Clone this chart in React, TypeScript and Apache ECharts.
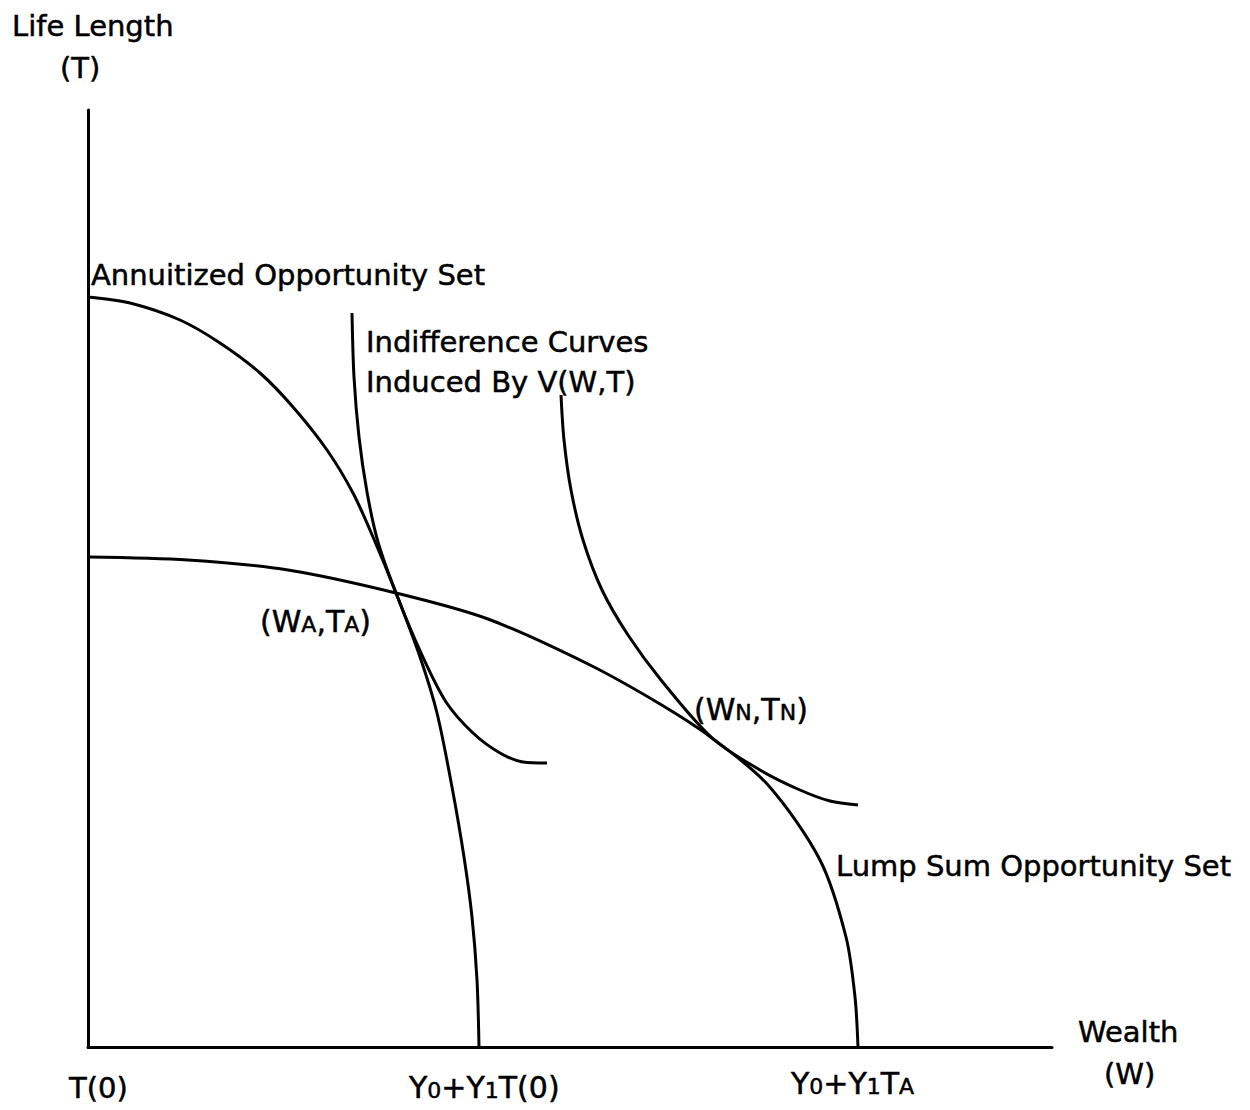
import React, { useEffect, useRef } from "react";
import * as echarts from "echarts";

// Data units: wealth (x) and life length (y), origin at T(0)
const annuitized: [number, number][] = [
  [0, 750], [42, 744], [92, 727], [132, 704], [172, 674], [205, 640], [239, 597],
  [265, 554], [285, 510], [308, 454], [332, 390], [349, 334], [364, 260],
  [376, 190], [384, 130], [389, 67], [391, 0],
];
const lumpSum: [number, number][] = [
  [0, 490], [100, 487], [200, 477], [308, 454], [400, 428], [500, 383],
  [572, 343], [624, 309], [680, 262], [732, 187], [758, 110], [767, 50], [770, 0],
];
const indiff1: [number, number][] = [
  [264, 734], [266, 670], [271, 610], [279, 555], [290, 505], [308, 454],
  [333, 394], [358, 345], [385, 314], [412, 294], [435, 285], [459, 284],
];
const indiff2: [number, number][] = [
  [473, 652], [476, 607], [483, 557], [495, 507], [514, 457], [540, 412],
  [573, 367], [624, 309], [672, 277], [712, 257], [742, 246], [770, 242],
];

const FONT = "DejaVu Sans";

export default function App() {
  const ref = useRef<HTMLDivElement>(null);
  useEffect(() => {
    if (!ref.current) return;
    const chart = echarts.init(ref.current, undefined, { renderer: "svg" });
    const base = { fontFamily: FONT, fontSize: 29, fill: "#000", stroke: "#000", lineWidth: 0.5 };
    const rich = {
      a: { fontFamily: FONT, fontSize: 30, fill: "#000", stroke: "#000", lineWidth: 0.5, verticalAlign: "bottom", lineHeight: 36 },
      s: { fontFamily: FONT, fontSize: 22, fill: "#000", stroke: "#000", lineWidth: 0.5, verticalAlign: "bottom", lineHeight: 36, padding: [0, 0, 1, 0] },
    };
    const txt = (text: string, x: number, y: number) => ({
      type: "text",
      x,
      y,
      style: { ...base, text, textAlign: "left", textVerticalAlign: "middle" },
    });
    const richTxt = (text: string, x: number, y: number) => ({
      type: "text",
      x,
      y,
      style: { text, rich, textAlign: "left", textVerticalAlign: "middle", fontFamily: FONT, fontSize: 30, fill: "#000" },
    });
    const lineSeries = (data: [number, number][]) => ({
      type: "line",
      data,
      smooth: 0.3,
      symbol: "none",
      lineStyle: { color: "#000", width: 3 },
      silent: true,
    });
    chart.setOption({
      animation: false,
      backgroundColor: "#fff",
      grid: { left: 88, right: 198, top: 110, bottom: 63 },
      xAxis: {
        type: "value",
        min: 0,
        max: 964,
        axisLine: { show: true, lineStyle: { color: "#000", width: 3 } },
        axisTick: { show: false },
        axisLabel: { show: false },
        splitLine: { show: false },
      },
      yAxis: {
        type: "value",
        min: 0,
        max: 937,
        axisLine: { show: true, lineStyle: { color: "#000", width: 3 } },
        axisTick: { show: false },
        axisLabel: { show: false },
        splitLine: { show: false },
      },
      series: [lineSeries(annuitized), lineSeries(lumpSum), lineSeries(indiff1), lineSeries(indiff2)],
      graphic: [
        txt("Life Length", 12, 26),
        txt("(T)", 60, 68),
        txt("Annuitized Opportunity Set", 91, 275),
        txt("Indifference Curves", 366, 342),
        txt("Induced By V(W,T)", 366, 382),
        txt("Lump Sum Opportunity Set", 836, 866),
        txt("Wealth", 1078, 1032),
        txt("(W)", 1104, 1074),
        txt("T(0)", 69, 1088),
        richTxt("{a|(W}{s|A}{a|,T}{s|A}{a|)}", 260, 618),
        richTxt("{a|(W}{s|N}{a|,T}{s|N}{a|)}", 694, 706),
        richTxt("{a|Y}{s|0}{a|+Y}{s|1}{a|T(0)}", 409, 1084),
        richTxt("{a|Y}{s|0}{a|+Y}{s|1}{a|T}{s|A}", 791, 1080),
      ],
    });
    return () => chart.dispose();
  }, []);
  return (
    <div
      ref={ref}
      style={{ position: "absolute", left: 0, top: 0, width: 1250, height: 1110 }}
    />
  );
}
